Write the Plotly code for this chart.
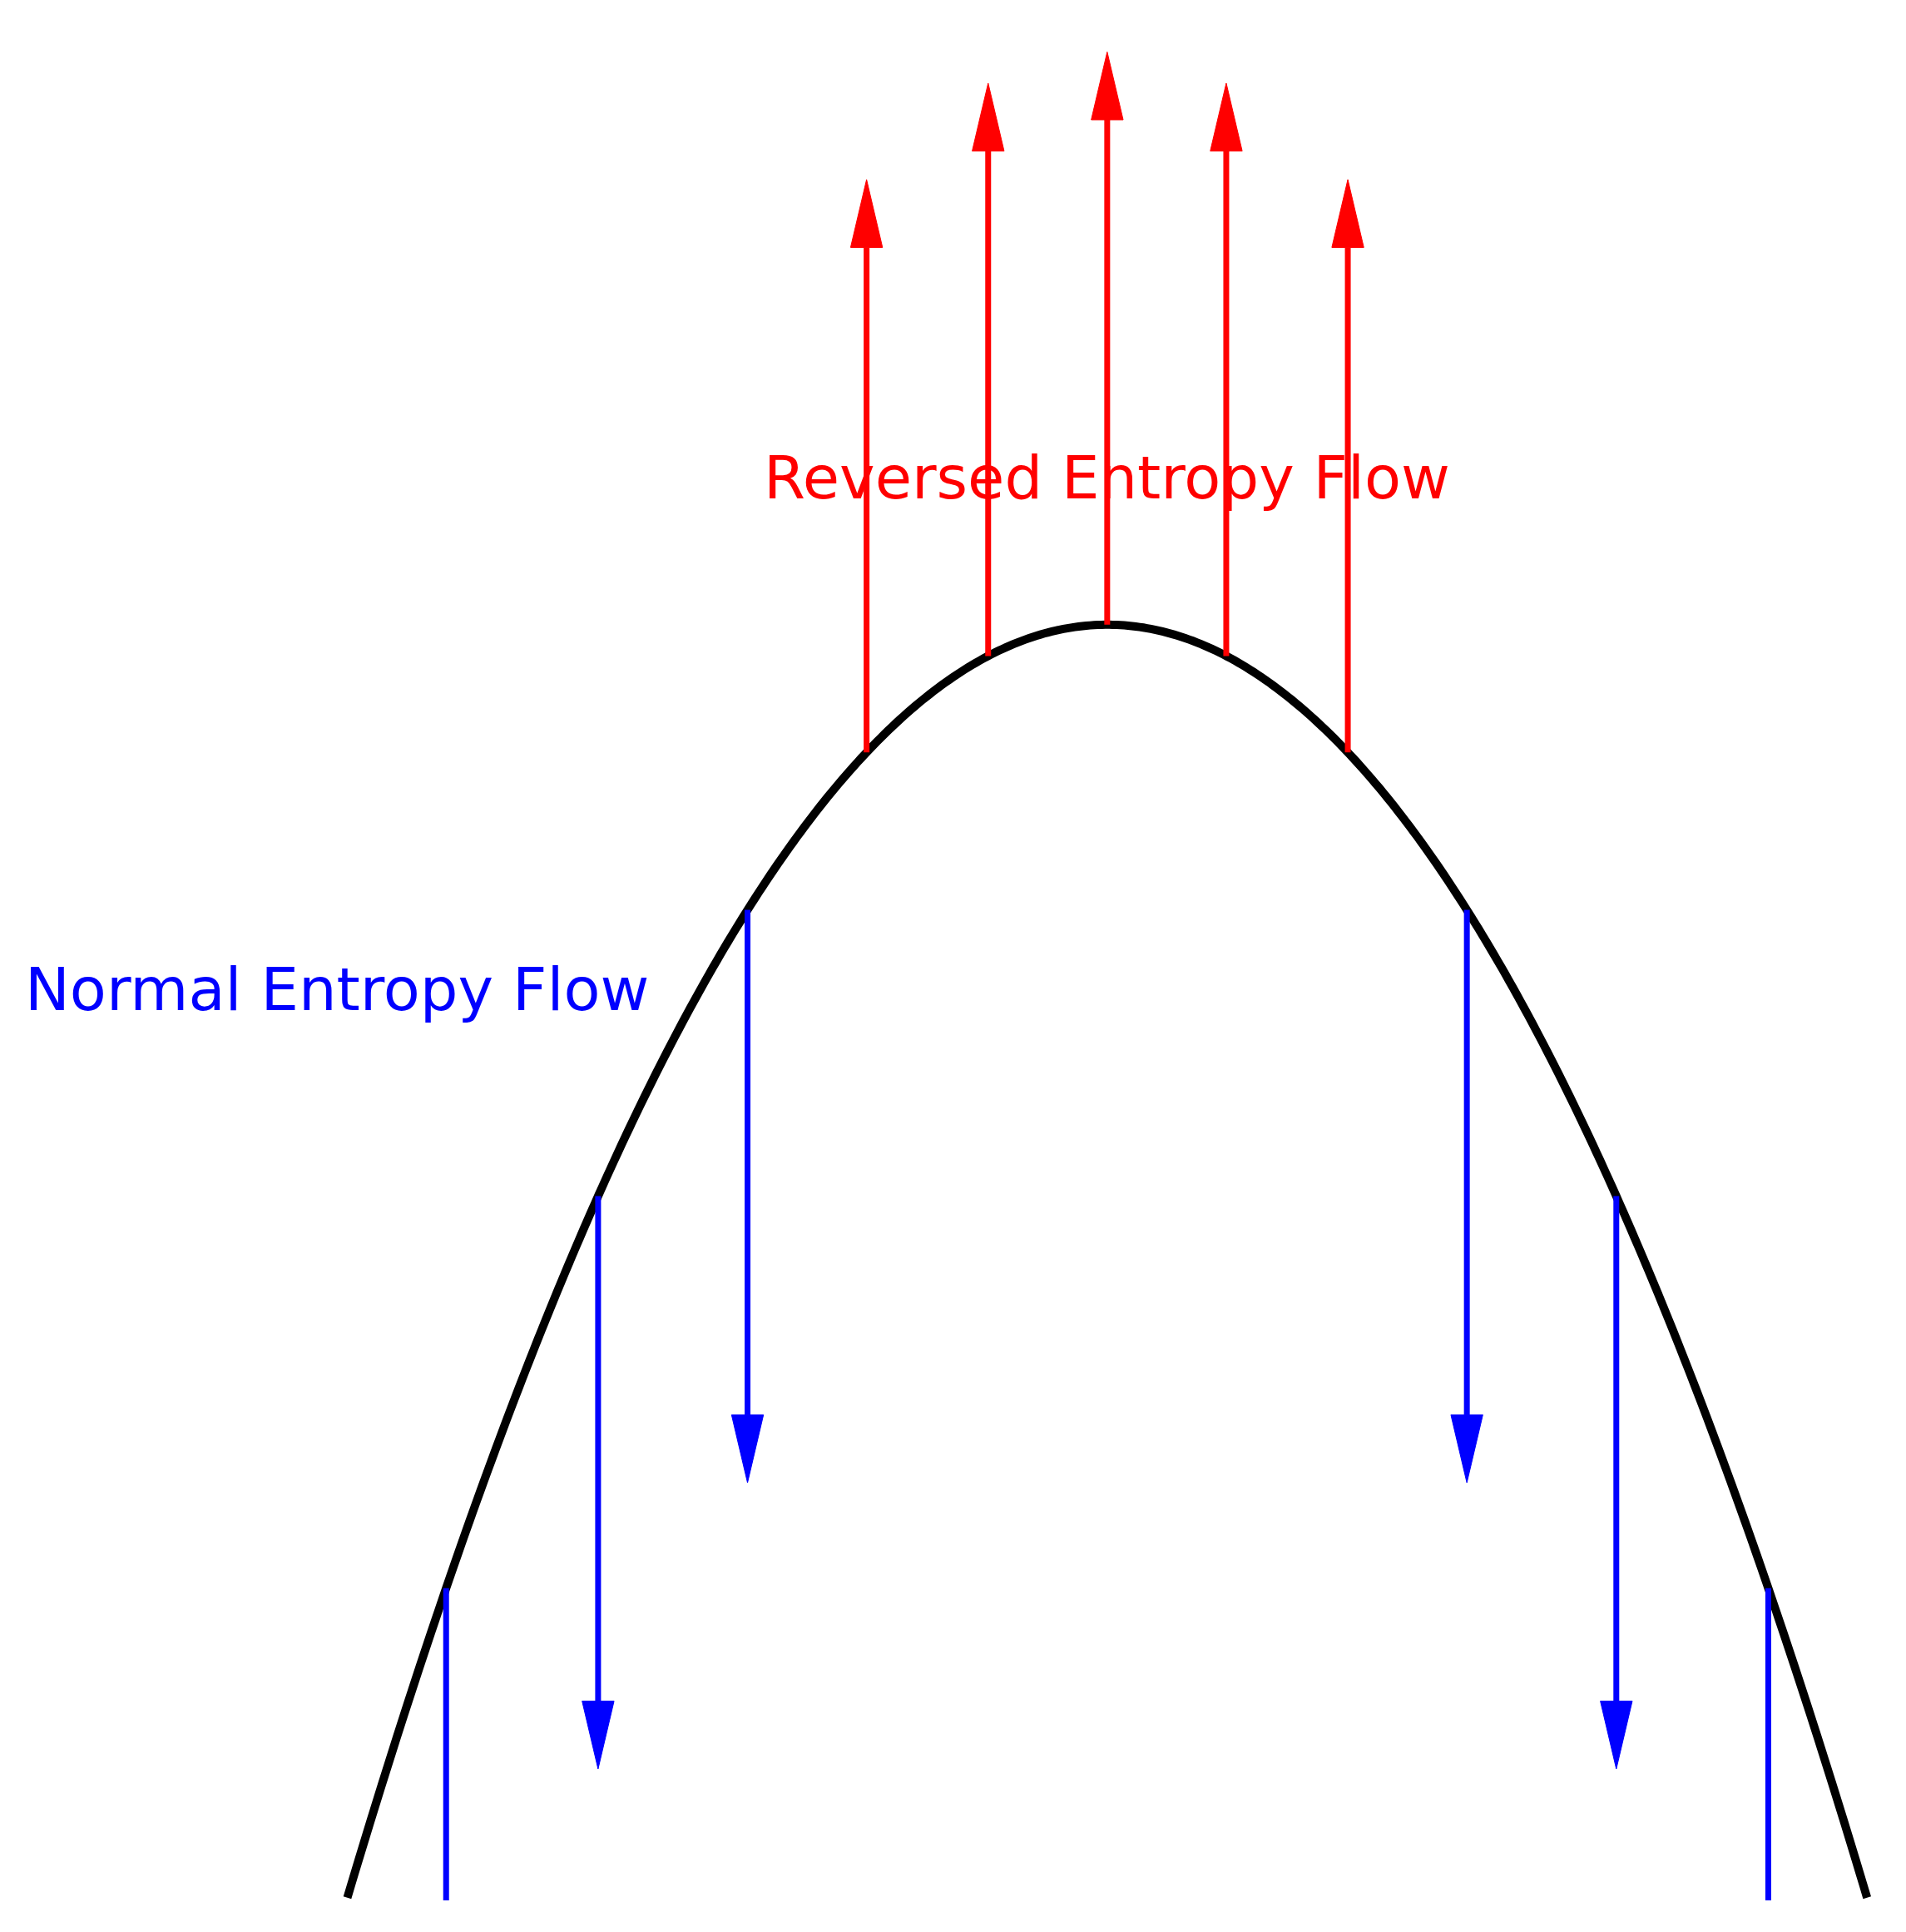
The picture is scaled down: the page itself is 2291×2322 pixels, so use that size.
import plotly.graph_objects as go
import numpy as np

red_x = [-0.95, -0.47, 0.0, 0.47, 0.95]
blue_x = [-2.61, -2.01, -1.42, 1.42, 2.01, 2.61]
arrow_len = 4.05
head_len = 0.48
head_hw = 0.063
y_floor = -9.02

def curve(x):
    return -np.asarray(x) ** 2

fig = go.Figure()
xs = np.linspace(-3, 3, 400)
fig.add_trace(go.Scatter(x=xs, y=curve(xs), mode="lines",
                         line=dict(color="black", width=10, simplify=False)))

def arrow(x0, direction, color):
    y0 = float(curve(x0))
    y1 = y0 + direction * arrow_len
    yb = y1 - direction * head_len
    if yb < y_floor:
        fig.add_trace(go.Scatter(x=[x0, x0], y=[y0, y_floor], mode="lines", line=dict(color=color, width=7)))
        return
    fig.add_trace(go.Scatter(x=[x0, x0], y=[y0, yb], mode="lines", line=dict(color=color, width=7)))
    fig.add_trace(go.Scatter(x=[x0 - head_hw, x0 + head_hw, x0, x0 - head_hw],
                             y=[yb, yb, y1, yb], mode="lines", fill="toself",
                             fillcolor=color, line=dict(color=color, width=1)))

for x in red_x:
    arrow(x, 1, "red")
for x in blue_x:
    arrow(x, -1, "blue")

fig.add_annotation(x=0, y=1.04, text="Reversed Entropy Flow", showarrow=False,
                   font=dict(family="DejaVu Sans", size=72, color="red"))
fig.add_annotation(x=-3.04, y=-2.58, text="Normal Entropy Flow", showarrow=False,
                   font=dict(family="DejaVu Sans", size=72, color="blue"))

fig.update_layout(width=2291, height=2322, margin=dict(l=0, r=0, t=0, b=0),
                  plot_bgcolor="white", paper_bgcolor="white", showlegend=False,
                  xaxis=dict(range=[-4.345, 3.18], visible=False),
                  yaxis=dict(range=[-9.29, 4.37], visible=False))
fig.write_html("out.html")
